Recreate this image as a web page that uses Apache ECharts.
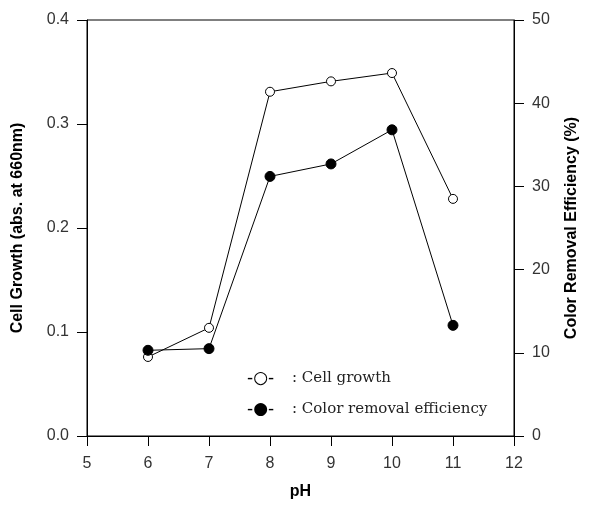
<!DOCTYPE html>
<html><head><meta charset="utf-8">
<script src="https://cdn.jsdelivr.net/npm/echarts@6/dist/echarts.min.js"></script>
<style>html,body{margin:0;padding:0;background:#fff}#c{width:591px;height:510px}</style>
</head><body><div id="c"></div>
<script>
var pH = [6, 7, 8, 9, 10, 11];
var cellGrowth = [0.076, 0.104, 0.331, 0.341, 0.349, 0.228];
var colorRemoval = [10.3, 10.5, 31.2, 32.7, 36.8, 13.3];
var xTicks = [5, 6, 7, 8, 9, 10, 11, 12];
var leftTicks = ['0.0', '0.1', '0.2', '0.3', '0.4'];
var rightTicks = ['0', '10', '20', '30', '40', '50'];
var legendMarks = { 'Cell growth': '-○-', 'Color removal efficiency': '-●-' };

function pairs(xs, ys) { return xs.map(function (x, i) { return [x, ys[i]]; }); }

var labelStyle = { color: '#333', fontFamily: 'Liberation Sans, Arial', fontSize: 16 };
var nameStyle = { color: '#000', fontFamily: 'Liberation Sans, Arial', fontSize: 16, fontWeight: 'bold' };
var lineAxis = { show: true, lineStyle: { color: '#000', width: 1 } };
var tickAxis = { show: true, inside: false, length: 10, lineStyle: { color: '#000', width: 1 } };

var chart = echarts.init(document.getElementById('c'), null, { renderer: 'canvas' });
chart.setOption({
  animation: false,
  backgroundColor: '#fff',
  grid: { left: 87, right: 77, top: 20, bottom: 74, show: true, borderColor: '#000', borderWidth: 1, containLabel: false },
  legend: {
    orient: 'vertical', left: 236, top: 365, itemGap: 14, itemWidth: 0, itemHeight: 0,
    icon: 'rect', selectedMode: false,
    textStyle: {
      fontFamily: 'DejaVu Serif, Liberation Serif, serif', fontSize: 15, color: '#222',
      rich: {
        m: { fontFamily: 'DejaVu Sans', fontSize: 17, color: '#000', width: 45, height: 22 },
        t: { fontFamily: 'DejaVu Serif, Liberation Serif, serif', fontSize: 15, color: '#222', height: 22 }
      }
    },
    formatter: function (n) { return '{m|' + legendMarks[n] + '}{t|: ' + n + '}'; },
    data: ['Cell growth', 'Color removal efficiency']
  },
  xAxis: {
    type: 'value', min: 5, max: 12, interval: 1,
    name: 'pH', nameLocation: 'middle', nameGap: 48, nameTextStyle: nameStyle,
    axisLine: lineAxis, axisTick: tickAxis, splitLine: { show: false },
    axisLabel: Object.assign({ margin: 20, formatter: function (v) { return xTicks.indexOf(v) >= 0 ? String(v) : ''; } }, labelStyle)
  },
  yAxis: [{
    type: 'value', min: 0, max: 0.4, interval: 0.1, position: 'left',
    name: 'Cell Growth (abs. at 660nm)', nameLocation: 'middle', nameGap: 61, nameTextStyle: nameStyle,
    axisLine: lineAxis, axisTick: tickAxis, splitLine: { show: false },
    axisLabel: Object.assign({ margin: 18, formatter: function (v) { return leftTicks[Math.round(v * 10)]; } }, labelStyle)
  }, {
    type: 'value', min: 0, max: 50, interval: 10, position: 'right',
    name: 'Color Removal Efficiency (%)', nameLocation: 'middle', nameGap: 50, nameTextStyle: nameStyle,
    axisLine: lineAxis, axisTick: tickAxis, splitLine: { show: false },
    axisLabel: Object.assign({ margin: 18, formatter: function (v) { return rightTicks[Math.round(v / 10)]; } }, labelStyle)
  }],
  series: [{
    name: 'Cell growth', type: 'line', yAxisIndex: 0, data: pairs(pH, cellGrowth),
    symbol: 'circle', symbolSize: 9, showAllSymbol: true,
    lineStyle: { color: '#000', width: 1 },
    itemStyle: { color: '#fff', borderColor: '#000', borderWidth: 1 }
  }, {
    name: 'Color removal efficiency', type: 'line', yAxisIndex: 1, data: pairs(pH, colorRemoval),
    symbol: 'circle', symbolSize: 10, showAllSymbol: true,
    lineStyle: { color: '#000', width: 1 },
    itemStyle: { color: '#000', borderColor: '#000', borderWidth: 1 }
  }]
});
</script></body></html>
